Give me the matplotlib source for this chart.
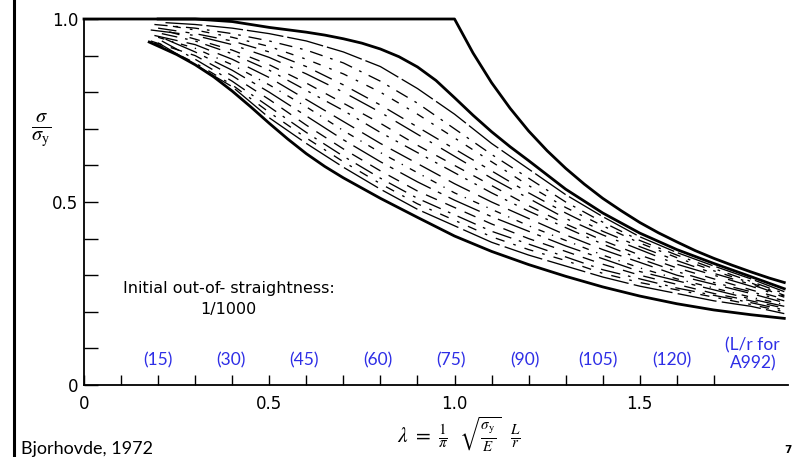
import matplotlib
matplotlib.use("Agg")
import matplotlib.pyplot as plt
import numpy as np

plt.rcParams["mathtext.fontset"] = "stix"

# --- data -----------------------------------------------------------------
# Euler (elastic) column curve with the squash-load plateau
euler_lam = [0.0, 1.0, 1.05, 1.1, 1.15, 1.2, 1.25, 1.3, 1.35, 1.4, 1.45,
             1.5, 1.55, 1.6, 1.65, 1.7, 1.75, 1.8, 1.85, 1.89]
euler_sig = [1.0, 1.0, 0.907, 0.826, 0.756, 0.694, 0.640, 0.592, 0.549,
             0.510, 0.476, 0.444, 0.416, 0.391, 0.367, 0.346, 0.327,
             0.309, 0.292, 0.280]

# Upper and lower envelopes of the column strength band
upper_lam = [0.2, 0.3, 0.4, 0.5, 0.6, 0.65, 0.7, 0.75, 0.8, 0.85, 0.9,
             0.95, 1.0, 1.05, 1.1, 1.15, 1.2, 1.3, 1.4, 1.5, 1.6, 1.7,
             1.8, 1.89]
upper_sig = [1.0, 1.0, 0.993, 0.977, 0.964, 0.956, 0.946, 0.934, 0.918,
             0.897, 0.869, 0.832, 0.785, 0.737, 0.692, 0.651, 0.613,
             0.535, 0.47, 0.415, 0.37, 0.332, 0.296, 0.263]

lower_lam = [0.176, 0.2, 0.25, 0.3, 0.35, 0.4, 0.45, 0.5, 0.55, 0.6, 0.65,
             0.7, 0.8, 0.9, 1.0, 1.1, 1.2, 1.3, 1.4, 1.5, 1.6, 1.7, 1.8,
             1.89]
lower_sig = [0.937, 0.926, 0.903, 0.875, 0.842, 0.803, 0.76, 0.715, 0.672,
             0.632, 0.597, 0.566, 0.51, 0.458, 0.407, 0.365, 0.329, 0.297,
             0.268, 0.243, 0.222, 0.205, 0.192, 0.182]

# Individual column curves inside the band (first point = curve start)
band_lam = [0.2, 0.3, 0.4, 0.5, 0.6, 0.7, 0.8, 0.9, 1.0, 1.1, 1.2, 1.3,
            1.4, 1.5, 1.6, 1.7, 1.8, 1.89]
band_start = [0.22, 0.19, 0.24, 0.20, 0.18, 0.23, 0.21, 0.19, 0.20, 0.22,
              0.18, 0.21, 0.19, 0.20]
curve_01 = [.99, .985, .975, .96, .94, .91, .87, .81, .74, .66, .59, .52, .46, .405, .362, .325, .29, .255]
curve_02 = [.985, .975, .96, .94, .915, .88, .83, .77, .70, .63, .565, .50, .445, .395, .355, .318, .283, .25]
curve_03 = [.98, .97, .95, .925, .89, .85, .80, .74, .675, .61, .545, .485, .435, .388, .348, .312, .279, .245]
curve_04 = [.975, .96, .94, .91, .87, .82, .765, .705, .645, .585, .525, .47, .42, .378, .34, .305, .275, .243]
curve_05 = [.97, .955, .93, .895, .85, .80, .745, .685, .625, .565, .51, .455, .41, .37, .33, .30, .27, .24]
curve_06 = [.965, .945, .915, .875, .825, .77, .715, .655, .60, .545, .49, .44, .395, .355, .32, .29, .26, .235]
curve_07 = [.96, .94, .905, .86, .805, .75, .69, .635, .58, .525, .475, .43, .385, .345, .31, .28, .255, .23]
curve_08 = [.955, .93, .89, .84, .78, .72, .66, .605, .55, .50, .455, .41, .37, .335, .30, .275, .25, .225]
curve_09 = [.95, .92, .875, .82, .76, .695, .635, .58, .525, .48, .435, .395, .355, .32, .29, .265, .24, .22]
curve_10 = [.945, .91, .86, .80, .735, .67, .61, .555, .505, .46, .42, .38, .345, .31, .285, .26, .235, .215]
curve_11 = [.94, .90, .845, .78, .71, .645, .585, .53, .485, .44, .40, .365, .33, .30, .275, .25, .23, .21]
curve_12 = [.94, .89, .83, .76, .69, .625, .565, .51, .465, .42, .385, .35, .315, .29, .265, .245, .225, .205]
curve_13 = [.935, .88, .82, .745, .675, .61, .55, .495, .45, .405, .37, .34, .305, .28, .26, .24, .22, .20]
curve_14 = [.935, .875, .815, .73, .66, .595, .535, .48, .435, .39, .355, .325, .295, .27, .25, .23, .215, .195]

band_curves = [curve_01, curve_02, curve_03, curve_04, curve_05, curve_06, curve_07,
               curve_08, curve_09, curve_10, curve_11, curve_12, curve_13, curve_14]

# Slenderness labels for A992 steel
lr_values = [15, 30, 45, 60, 75, 90, 105, 120]
fy_ksi = 50.0
e_ksi = 29000.0

x_ticks = [0.0, 0.5, 1.0, 1.5]
x_tick_labels = ["0", "0.5", "1.0", "1.5"]
y_ticks = [0.0, 0.5, 1.0]
y_tick_labels = ["0", "0.5", "1.0"]

# --- figure ---------------------------------------------------------------
W, H = 792, 457
fig = plt.figure(figsize=(W / 100, H / 100), dpi=100)
fig.patch.set_facecolor("white")
ax = fig.add_axes([84 / W, 72 / H, 704 / W, 366 / H])
ax.set_xlim(0, 1.9)
ax.set_ylim(0, 1.0)

ax.plot(euler_lam, euler_sig, color="black", lw=2.0, clip_on=False)
ax.plot(upper_lam, upper_sig, color="black", lw=2.0, clip_on=False)
ax.plot(lower_lam, lower_sig, color="black", lw=2.0, clip_on=False)

dash_styles = [(0, (28, 3)), (0, (10, 6, 2, 6)), (0, (6, 7, 2, 7)),
               (0, (14, 7, 3, 7)), (0, (22, 8, 2, 8)), (0, (8, 8)),
               (0, (12, 6, 2, 6, 2, 6)), (0, (18, 7)), (0, (5, 6, 1, 6)),
               (0, (26, 6, 3, 6)), (0, (9, 7)), (0, (15, 6, 2, 6)),
               (0, (7, 7, 2, 7)), (0, (30, 4))]
for start, vals, ls in zip(band_start, band_curves, dash_styles):
    ax.plot([start] + band_lam[1:], vals, color="black", lw=0.95,
            linestyle=ls)

# spines and ticks
for s in ("top", "right"):
    ax.spines[s].set_visible(False)
ax.spines["left"].set_linewidth(1.3)
ax.spines["bottom"].set_linewidth(1.3)

ax.set_xticks(x_ticks)
ax.set_xticklabels(x_tick_labels, fontsize=12, family="DejaVu Sans")
ax.set_xticks(np.arange(0.1, 1.75, 0.1), minor=True)
ax.set_yticks(y_ticks)
ax.set_yticklabels(y_tick_labels, fontsize=12, family="DejaVu Sans")
ax.set_yticks(np.arange(0.1, 1.0, 0.1), minor=True)
ax.tick_params(axis="x", which="both", direction="in", length=7, width=1,
               pad=7)
ax.tick_params(axis="y", which="both", direction="in", length=10, width=1,
               pad=4)

# axis titles
fig.text(41 / W, 1 - 130 / H, r"$\frac{\sigma}{\sigma_\mathrm{y}}$",
         fontsize=21, ha="center", va="center")
fig.text(459 / W, 1 - 434 / H,
         r"$\lambda\ =\ \frac{1}{\pi}\ \ \sqrt{\frac{\sigma_\mathrm{y}}{E}}\ \ \frac{L}{r}$",
         fontsize=15.5, ha="center", va="center")

ax.text(0.39, 0.235, "Initial out-of- straightness:\n1/1000",
        fontsize=11.5, ha="center", va="center", linespacing=1.45,
        family="DejaVu Sans")

# A992 slenderness ratios along the axis
blue = "#2e2ee6"
lam_factor = np.sqrt(fy_ksi / e_ksi) / np.pi
for lr in lr_values:
    ax.text(lr * lam_factor, 0.066, f"({lr})", color=blue, fontsize=12.5,
            ha="center", va="center", family="Lato")
ax.text(1.805, 0.084, "(L/r for\nA992)", color=blue, fontsize=12.5,
        ha="center", va="center", family="Lato", linespacing=1.15,
        clip_on=False)

# slide frame and footer
fig.add_artist(plt.Line2D([14 / W, 14 / W], [0, 1], color="black", lw=2.2))
fig.text(21 / W, 1 - 449 / H, "Bjorhovde, 1972", fontsize=13,
         ha="left", va="center", family="Lato")
fig.text(784 / W, 1 - 450 / H, "7", fontsize=7.5, fontweight="bold",
         ha="left", va="center")

fig.savefig("out.png", dpi=100, facecolor="white")
